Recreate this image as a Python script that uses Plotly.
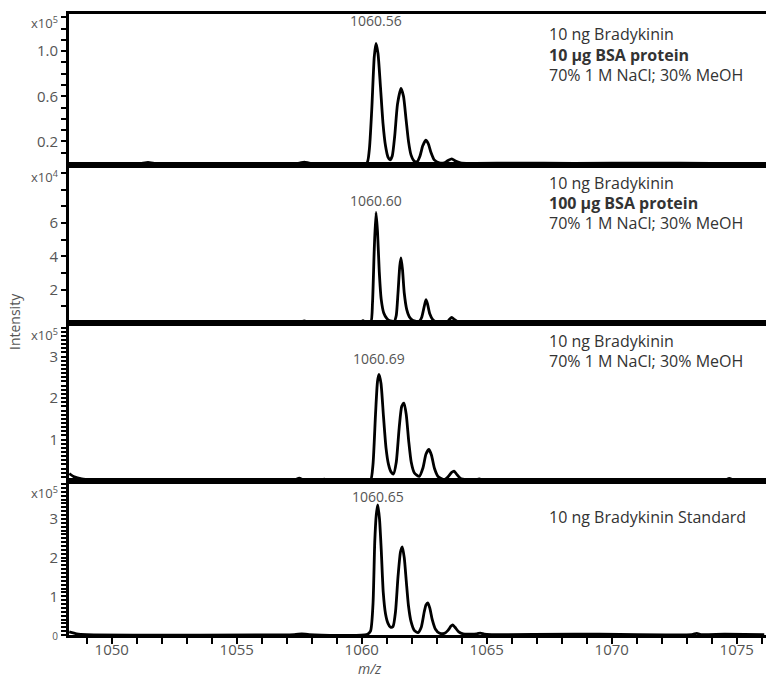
import plotly.graph_objects as go

# ---------------- data ----------------
# Panel 1: 10 ng Bradykinin + 10 ug BSA (x10^5)
mz_1 = [1048.3, 1049.5, 1051.2, 1051.45, 1051.7, 1054.0, 1057.45, 1057.7, 1057.95, 1059.5,
        1060.2, 1060.3, 1060.4, 1060.5, 1060.57, 1060.65, 1060.75, 1060.85, 1060.95, 1061.05,
        1061.13, 1061.22, 1061.32, 1061.43, 1061.57, 1061.67, 1061.77, 1061.87, 1061.97, 1062.1,
        1062.22, 1062.33, 1062.44, 1062.56, 1062.66, 1062.77, 1062.9, 1063.1, 1063.3, 1063.45,
        1063.6, 1063.75, 1063.95, 1064.3, 1066.0, 1068.5, 1071.5, 1074.0, 1076.1]
int_1 = [0.005, 0.004, 0.004, 0.012, 0.004, 0.004, 0.004, 0.016, 0.004, 0.004,
         0.005, 0.12, 0.48, 0.95, 1.07, 0.98, 0.68, 0.36, 0.16, 0.06,
         0.035, 0.07, 0.25, 0.53, 0.67, 0.60, 0.40, 0.20, 0.08, 0.025,
         0.02, 0.07, 0.16, 0.21, 0.18, 0.10, 0.035, 0.01, 0.01, 0.03,
         0.045, 0.025, 0.01, 0.005, 0.006, 0.005, 0.006, 0.005, 0.005]

# Panel 2: 10 ng Bradykinin + 100 ug BSA (x10^4)
mz_2 = [1048.3, 1050.0, 1052.0, 1055.0, 1057.5, 1057.7, 1057.9, 1059.8, 1059.95, 1060.05,
        1060.15, 1060.36, 1060.43, 1060.5, 1060.57, 1060.63, 1060.7, 1060.78, 1060.88, 1061.0,
        1061.1, 1061.3, 1061.38, 1061.45, 1061.52, 1061.57, 1061.63, 1061.7, 1061.8, 1061.9,
        1062.05, 1062.3, 1062.4, 1062.5, 1062.57, 1062.63, 1062.72, 1062.85, 1063.0, 1063.4,
        1063.5, 1063.6, 1063.7, 1063.85, 1064.2, 1066.0, 1068.0, 1071.0, 1074.0, 1076.1]
int_2 = [0.03, 0.03, 0.03, 0.03, 0.03, 0.12, 0.03, 0.03, 0.03, 0.14,
         0.03, 0.03, 1.2, 4.4, 6.63, 5.5, 3.1, 1.4, 0.6, 0.28,
         0.15, 0.1, 0.45, 1.8, 3.4, 3.9, 3.2, 1.8, 0.8, 0.38,
         0.15, 0.1, 0.35, 1.0, 1.4, 1.15, 0.55, 0.18, 0.05, 0.05,
         0.2, 0.34, 0.22, 0.06, 0.03, 0.05, 0.03, 0.03, 0.03, 0.03]

# Panel 3: 10 ng Bradykinin, no BSA (x10^5)
mz_3 = [1048.3, 1048.5, 1048.8, 1049.2, 1050.0, 1052.6, 1052.7, 1052.8, 1054.2, 1055.3,
        1057.3, 1057.5, 1057.7, 1058.3, 1058.5, 1058.7, 1060.2, 1060.36, 1060.45, 1060.55,
        1060.63, 1060.69, 1060.77, 1060.87, 1060.97, 1061.07, 1061.17, 1061.27, 1061.38, 1061.5,
        1061.6, 1061.69, 1061.78, 1061.88, 1061.98, 1062.1, 1062.3, 1062.45, 1062.57, 1062.69,
        1062.79, 1062.91, 1063.05, 1063.3, 1063.45, 1063.6, 1063.69, 1063.8, 1063.95, 1064.2,
        1064.5, 1064.7, 1064.9, 1068.2, 1068.4, 1068.6, 1069.4, 1074.5, 1074.7, 1074.9,
        1075.6, 1076.1]
int_3 = [0.18, 0.10, 0.05, 0.03, 0.02, 0.02, 0.04, 0.02, 0.025, 0.025,
         0.02, 0.07, 0.02, 0.02, 0.045, 0.02, 0.02, 0.03, 0.40, 1.60,
         2.40, 2.57, 2.35, 1.55, 0.80, 0.40, 0.22, 0.17, 0.45, 1.30,
         1.80, 1.88, 1.60, 0.95, 0.45, 0.20, 0.11, 0.32, 0.65, 0.76,
         0.62, 0.30, 0.11, 0.03, 0.10, 0.21, 0.24, 0.16, 0.06, 0.03,
         0.02, 0.05, 0.02, 0.02, 0.035, 0.02, 0.03, 0.02, 0.06, 0.02,
         0.04, 0.02]

# Panel 4: 10 ng Bradykinin Standard (x10^5)
mz_4 = [1048.3, 1048.6, 1049.0, 1057.3, 1057.6, 1057.9, 1060.2, 1060.35, 1060.45, 1060.52,
        1060.58, 1060.64, 1060.71, 1060.78, 1060.86, 1060.95, 1061.05, 1061.15, 1061.25, 1061.35,
        1061.45, 1061.55, 1061.62, 1061.7, 1061.78, 1061.87, 1061.97, 1062.1, 1062.25, 1062.38,
        1062.5, 1062.57, 1062.64, 1062.72, 1062.82, 1062.95, 1063.1, 1063.3, 1063.45, 1063.57,
        1063.64, 1063.73, 1063.88, 1064.05, 1064.6, 1064.75, 1064.9, 1065.2, 1068.5, 1069.5,
        1073.2, 1073.4, 1073.6, 1074.5, 1076.1]
int_4 = [0.08, 0.03, 0.01, 0.01, 0.03, 0.01, 0.01, 0.10, 0.80, 2.40,
         3.10, 3.36, 3.00, 2.20, 1.10, 0.55, 0.30, 0.20, 0.22, 0.60,
         1.50, 2.15, 2.28, 2.00, 1.40, 0.75, 0.35, 0.12, 0.06, 0.20,
         0.60, 0.78, 0.83, 0.70, 0.40, 0.15, 0.05, 0.04, 0.12, 0.23,
         0.26, 0.20, 0.08, 0.03, 0.03, 0.05, 0.02, 0.01, 0.02, 0.02,
         0.01, 0.04, 0.01, 0.02, 0.01]

peak_labels = ["1060.56", "1060.60", "1060.69", "1060.65"]
peak_mz = [1060.57, 1060.57, 1060.69, 1060.64]
exponents = ["5", "4", "5", "5"]
panel_texts = [
    ["10 ng Bradykinin", "<b>10 µg BSA protein</b>", "70% 1 M NaCl; 30% MeOH"],
    ["10 ng Bradykinin", "<b>100 µg BSA protein</b>", "70% 1 M NaCl; 30% MeOH"],
    ["10 ng Bradykinin", "70% 1 M NaCl; 30% MeOH"],
    ["10 ng Bradykinin Standard"],
]

x_range = [1048.29, 1076.17]
x_tickvals = list(range(1049, 1077))
x_ticktext = [str(v) if v % 5 == 0 else "" for v in x_tickvals]

y_ranges = [[-0.01, 1.33], [0, 9.48], [0, 3.81], [0, 3.98]]
y_tickvals = [
    [round(0.1 * k, 1) for k in range(1, 14)],
    list(range(1, 10)),
    [round(0.1 * k, 1) for k in range(1, 38)],
    [round(0.1 * k, 1) for k in range(0, 40)],
]
y_label_map = [
    {0.2: "0.2", 0.6: "0.6", 1.0: "1.0"},
    {2: "2", 4: "4", 6: "6"},
    {1.0: "1", 2.0: "2", 3.0: "3"},
    {0.0: '<span style="font-size:10px">0</span>', 1.0: "1", 2.0: "2", 3.0: "3"},
]

# ---------------- layout geometry ----------------
L, R, T, B = 69, 0, 14, 42
W, H = 766, 677
PW, PH = W - L - R, H - T - B
bounds_px = [14, 165, 323, 481, 635]


def px_x(x):
    return (x - L) / PW


def px_y(y):
    return (H - B - y) / PH


TICK_COL = "#555555"
TXT_COL = "#333333"
FONT = "Open Sans"

fig = go.Figure()
mz_all = [mz_1, mz_2, mz_3, mz_4]
int_all = [int_1, int_2, int_3, int_4]

for i in range(4):
    sfx = "" if i == 0 else str(i + 1)
    fig.add_trace(go.Scatter(
        x=mz_all[i], y=int_all[i], mode="lines",
        line=dict(color="black", width=2.8, shape="spline", smoothing=0.6),
        xaxis="x" + sfx, yaxis="y" + sfx, showlegend=False, hoverinfo="skip",
    ))

layout = dict(
    width=W, height=H,
    margin=dict(l=L, r=R, t=T, b=B),
    paper_bgcolor="white", plot_bgcolor="white",
    font=dict(family=FONT, color=TXT_COL),
    showlegend=False,
)

for i in range(4):
    sfx = "" if i == 0 else str(i + 1)
    top, bot = bounds_px[i], bounds_px[i + 1]
    dom = [px_y(bot), px_y(top)]
    last = (i == 3)
    xa = dict(
        range=x_range, anchor="y" + sfx, domain=[0, 1],
        showline=True, linewidth=3, linecolor="black", mirror=True,
        showgrid=False, zeroline=False,
        tickmode="array", tickvals=x_tickvals, ticktext=x_ticktext,
        ticks="outside" if last else "", ticklen=6, tickwidth=2, tickcolor="black",
        showticklabels=last, ticklabelstandoff=-7,
        tickfont=dict(family=FONT, size=15, color=TICK_COL),
    )
    if i > 0:
        xa["matches"] = "x"
    ya = dict(
        range=y_ranges[i], domain=dom, anchor="x" + sfx,
        showline=True, linewidth=3, linecolor="black", mirror=False,
        showgrid=False, zeroline=False,
        tickmode="array", tickvals=y_tickvals[i],
        ticktext=[y_label_map[i].get(v, "") for v in y_tickvals[i]],
        ticks="outside", ticklen=5, tickwidth=2, tickcolor="black",
        tickfont=dict(family=FONT, size=15, color=TICK_COL),
    )
    layout["xaxis" + sfx] = xa
    layout["yaxis" + sfx] = ya

fig.update_layout(**layout)

annotations = []
# exponent labels
exp_y = [23, 176, 334, 492]
for i in range(4):
    annotations.append(dict(
        xref="paper", yref="paper", x=px_x(29), y=px_y(exp_y[i]),
        xanchor="left", yanchor="middle", showarrow=False,
        text="x10<sup>" + exponents[i] + "</sup>",
        font=dict(family=FONT, size=13, color=TICK_COL),
    ))

# peak labels
lab_y = [20, 200, 358, 496]
for i in range(4):
    sfx = "" if i == 0 else str(i + 1)
    annotations.append(dict(
        xref="x" + sfx, yref="paper", x=peak_mz[i], y=px_y(lab_y[i]),
        xanchor="center", yanchor="middle", showarrow=False,
        text=peak_labels[i], font=dict(family=FONT, size=14, color=TICK_COL),
    ))

# condition texts
text_y = [[34, 55, 75], [183, 203, 223], [341, 361], [517]]
for i in range(4):
    for j, t in enumerate(panel_texts[i]):
        annotations.append(dict(
            xref="paper", yref="paper", x=px_x(547), y=px_y(text_y[i][j]),
            xanchor="left", yanchor="middle", showarrow=False,
            text=t, font=dict(family=FONT, size=16, color=TXT_COL),
        ))

# axis titles
annotations.append(dict(
    xref="paper", yref="paper", x=px_x(14), y=px_y(322),
    xanchor="center", yanchor="middle", showarrow=False, textangle=-90,
    text="Intensity", font=dict(family=FONT, size=14, color=TICK_COL),
))
annotations.append(dict(
    xref="paper", yref="paper", x=px_x(370), y=px_y(668),
    xanchor="center", yanchor="middle", showarrow=False,
    text="<i>m/z</i>", font=dict(family=FONT, size=14, color=TICK_COL),
))

fig.update_layout(annotations=annotations)
fig.write_html("out.html", config={"displayModeBar": False},
               post_script="document.body.style.margin='0px';")
